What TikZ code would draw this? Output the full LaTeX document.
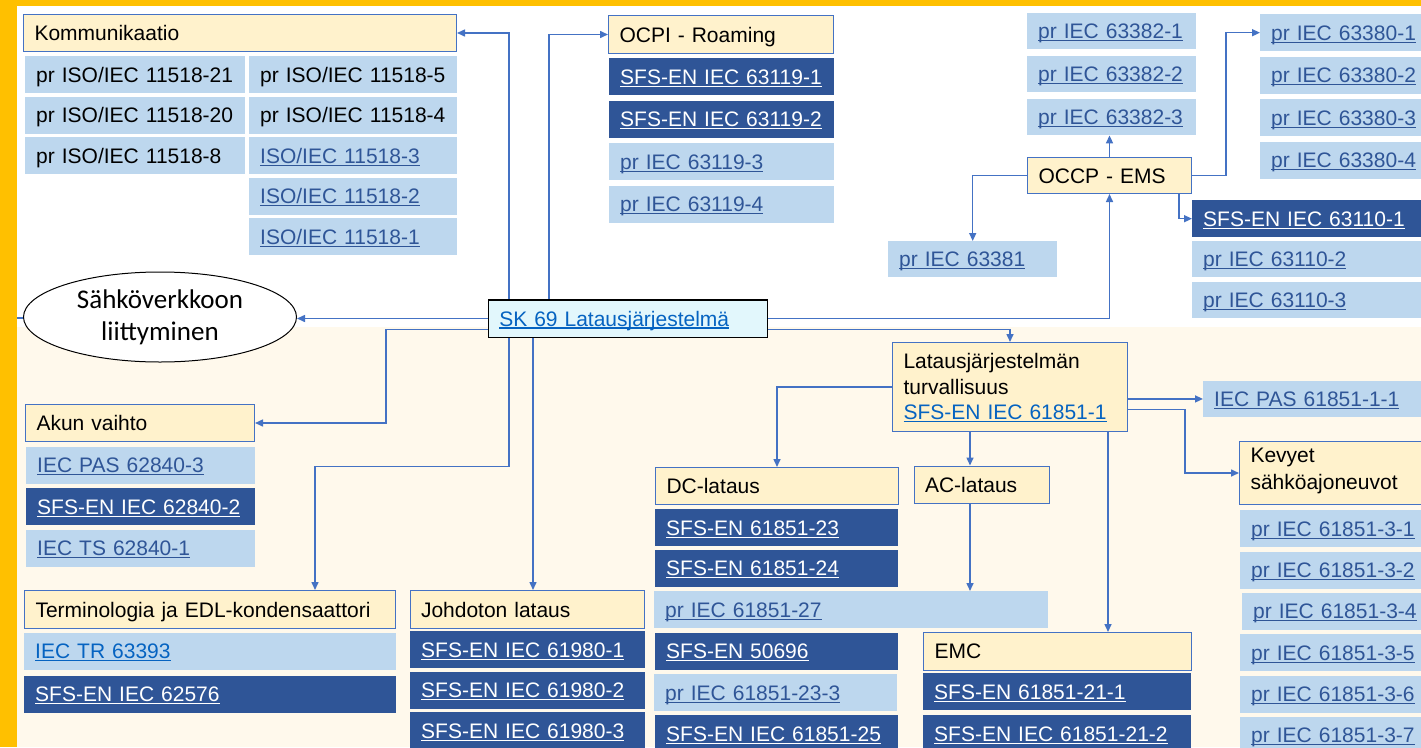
\documentclass[tikz,border=0pt]{standalone}
\usepackage{fontspec}
\setmainfont{Liberation Sans}
\newfontfamily\ellfont{Carlito}
\usetikzlibrary{arrows.meta}
\usetikzlibrary{shapes.geometric}

\definecolor{frameorange}{HTML}{FFC000}
\definecolor{creambg}{HTML}{FFF9EC}
\definecolor{headfill}{HTML}{FFF2CC}
\definecolor{lightbox}{HTML}{BDD7EE}
\definecolor{darkbox}{HTML}{2F5597}
\definecolor{lineblue}{HTML}{4472C4}
\definecolor{weblink}{HTML}{0563C1}
\definecolor{skfill}{HTML}{E2F7FC}

\newcommand{\lnk}[1]{\leavevmode\setbox0=\hbox{#1}\rlap{\rule[-2.6pt]{\wd0}{1.2pt}}\box0}

\tikzset{
  box/.style={anchor=north west, inner xsep=11pt, inner ysep=0pt, minimum height=37pt,
    align=left, text height=20pt, text depth=5pt, font=\fontsize{21}{25.5}\selectfont},
  bw/.code={\pgfmathsetmacro\boxtw{#1-22}\pgfkeysalso{text width=\boxtw pt}},
  head/.style={box, fill=headfill, draw=lineblue, line width=1pt},
  light/.style={box, fill=lightbox, text=darkbox},
  plain/.style={box, fill=lightbox, text=black},
  dark/.style={box, fill=darkbox, text=white},
  conn/.style={->, draw=lineblue, line width=1.5pt},
}

\begin{document}
\begin{tikzpicture}[x=1pt, y=-1pt, >={Triangle[length=8pt,width=7pt]}]
\useasboundingbox (0,0) rectangle (1421,747);
\fill[frameorange] (0,0) rectangle (1421,747);
\fill[white] (17,6) rectangle (1421,327);
\fill[creambg] (17,327) rectangle (1421,747);

  \node[head, bw=433] (komm) at (23,14) {Kommunikaatio};
  \node[plain, bw=220] (k21) at (25,56) {pr ISO/IEC 11518-21};
  \node[plain, bw=208] (k5) at (249,56) {pr ISO/IEC 11518-5};
  \node[plain, bw=220] (k20) at (25,96.5) {pr ISO/IEC 11518-20};
  \node[plain, bw=208] (k4) at (249,96.5) {pr ISO/IEC 11518-4};
  \node[plain, bw=220] (k8) at (25,137) {pr ISO/IEC 11518-8};
  \node[light, bw=208] (k3) at (249,137) {\lnk{ISO/IEC 11518-3}};
  \node[light, bw=208] (k2) at (249,177.5) {\lnk{ISO/IEC 11518-2}};
  \node[light, bw=208] (k1) at (249,218) {\lnk{ISO/IEC 11518-1}};

  \node[head, bw=225, minimum height=38pt] (ocpi) at (608,15) {OCPI - Roaming};
  \node[dark, bw=225] (o1) at (609,58) {\lnk{SFS-EN IEC 63119-1}};
  \node[dark, bw=225] (o2) at (609,100.5) {\lnk{SFS-EN IEC 63119-2}};
  \node[light, bw=225] (o3) at (609,143) {\lnk{pr IEC 63119-3}};
  \node[light, bw=225] (o4) at (609,185.5) {\lnk{pr IEC 63119-4}};

  \node[light, bw=169, minimum height=36pt] (a1) at (1027,13) {\lnk{pr IEC 63382-1}};
  \node[light, bw=169, minimum height=36pt] (a2) at (1027,56) {\lnk{pr IEC 63382-2}};
  \node[light, bw=169, minimum height=36pt] (a3) at (1027,99) {\lnk{pr IEC 63382-3}};
  \node[light, bw=200] (b1) at (1260,14) {\lnk{pr IEC 63380-1}};
  \node[light, bw=200] (b2) at (1260,56.5) {\lnk{pr IEC 63380-2}};
  \node[light, bw=200] (b3) at (1260,99) {\lnk{pr IEC 63380-3}};
  \node[light, bw=200] (b4) at (1260,141.5) {\lnk{pr IEC 63380-4}};
  \node[head, bw=164, minimum height=36pt] (occp) at (1027,157) {OCCP - EMS};
  \node[light, bw=169, minimum height=36pt] (r81) at (888,241) {\lnk{pr IEC 63381}};
  \node[dark, bw=229] (c1) at (1192,200) {\lnk{SFS-EN IEC 63110-1}};
  \node[light, bw=229, minimum height=36pt] (c2) at (1192,241) {\lnk{pr IEC 63110-2}};
  \node[light, bw=229, minimum height=36pt] (c3) at (1192,282) {\lnk{pr IEC 63110-3}};

  \coordinate (edge) at (17,318);
  \draw[lineblue, line width=1.5pt] (edge) -- (30,318);
  \node[ellipse, draw=black, line width=1pt, fill=white, minimum width=273pt, minimum height=90pt,
    inner sep=0pt, align=center, font=\ellfont\fontsize{27}{32}\selectfont] (grid) at (160,317)
    {Sähköverkkoon\\liittyminen};
  \node[box, bw=279, minimum height=37.5pt, fill=skfill, draw=black, line width=1.5pt,
    text=weblink] (sk) at (487.5,299) {\lnk{SK 69 Latausjärjestelmä}};

  \node[head, bw=229] (akun) at (25,404) {Akun vaihto};
  \node[light, bw=229] (v3) at (26,446.5) {\lnk{IEC PAS 62840-3}};
  \node[dark, bw=229] (v2) at (26,488) {\lnk{SFS-EN IEC 62840-2}};
  \node[light, bw=229] (v1) at (26,529.5) {\lnk{IEC TS 62840-1}};

  \node[head, bw=371, minimum height=38pt] (term) at (24,590) {Terminologia ja EDL-kondensaattori};
  \node[light, bw=372, text=weblink] (tr) at (24,632.5) {\lnk{IEC TR 63393}};
  \node[dark, bw=372] (e62) at (24,675.5) {\lnk{SFS-EN IEC 62576}};

  \node[head, bw=234.5, minimum height=38pt] (johd) at (409.5,590) {Johdoton lataus};
  \node[dark, bw=235] (j1) at (410,631) {\lnk{SFS-EN IEC 61980-1}};
  \node[dark, bw=235] (j2) at (410,671.5) {\lnk{SFS-EN IEC 61980-2}};
  \node[dark, bw=235] (j3) at (410,712) {\lnk{SFS-EN IEC 61980-3}};

  \node[head, bw=235, minimum height=89pt, text depth=57pt] (turv) at (892,342)
    {Latausjärjestelmän\\turvallisuus\\\textcolor{weblink}{\lnk{SFS-EN IEC 61851-1}}};
  \node[light, bw=218, minimum height=36.5pt] (pas) at (1203,380.5) {\lnk{IEC PAS 61851-1-1}};

  \node[head, bw=243] (dc) at (655,467) {DC-lataus};
  \node[dark, bw=243] (d23) at (655,509) {\lnk{SFS-EN 61851-23}};
  \node[dark, bw=243] (d24) at (655,549.5) {\lnk{SFS-EN 61851-24}};
  \node[light, bw=394] (d27) at (654,591) {\lnk{pr IEC 61851-27}};
  \node[dark, bw=243] (d50) at (655,632.5) {\lnk{SFS-EN 50696}};
  \node[light, bw=243] (d233) at (654,674) {\lnk{pr IEC 61851-23-3}};
  \node[dark, bw=243] (d25) at (655,715) {\lnk{SFS-EN IEC 61851-25}};

  \node[head, bw=135.5, minimum height=37.5pt] (ac) at (913.5,465.5) {AC-lataus};
  \node[head, bw=268, minimum height=37.5pt] (emc) at (923,632) {EMC};
  \node[dark, bw=268] (f1) at (923,673) {\lnk{SFS-EN 61851-21-1}};
  \node[dark, bw=268] (f2) at (923,715) {\lnk{SFS-EN IEC 61851-21-2}};

  \node[head, bw=200, minimum height=63pt, text depth=41.6pt] (kev) at (1239,441)
    {Kevyet\\[2pt]sähköajoneuvot};
  \node[light, bw=200] (m31) at (1240,510) {\lnk{pr IEC 61851-3-1}};
  \node[light, bw=200] (m32) at (1240,551.3) {\lnk{pr IEC 61851-3-2}};
  \node[light, bw=200] (m34) at (1242,592.6) {\lnk{pr IEC 61851-3-4}};
  \node[light, bw=200] (m35) at (1240,634) {\lnk{pr IEC 61851-3-5}};
  \node[light, bw=200] (m36) at (1240,675.3) {\lnk{pr IEC 61851-3-6}};
  \node[light, bw=200] (m37) at (1240,716.6) {\lnk{pr IEC 61851-3-7}};

  \draw[conn] (sk.west) -- (sk.west -| grid.east);
  \draw[conn] ([xshift=21.5pt]sk.north west) |- (komm.east);
  \draw[conn] ([xshift=61.5pt]sk.north west) |- (ocpi.west);
  \draw[conn] ([yshift=8.5pt]sk.south west) -- ++(-101.5,0) |- (akun.east);
  \draw[conn] ([xshift=21.5pt]sk.south west) -- ++(0,128.5) -| ([xshift=291pt]term.north west);
  \draw[conn] ([xshift=45.5pt]sk.south west) -- ([xshift=123.5pt]johd.north west);
  \draw[conn] (sk.east) -| (occp.south);
  \draw[conn] ([yshift=8.5pt]sk.south east) -| (turv.north);

  \draw[conn] (occp.north) -- (occp.north |- a3.south);
  \draw[conn] (occp.east) -- ++(34,0) |- (b1.west);
  \draw[conn] (occp.west) -| (r81.north);
  \draw[conn] ([xshift=-13pt]occp.south east) |- (c1.west);

  \draw[conn] (turv.east |- pas.west) -- (pas.west);
  \draw[conn] ([yshift=-22.5pt]turv.east) -- ++(57,0) |- (kev.west);
  \draw[conn] (turv.west) -| (dc.north);
  \draw[conn] ([xshift=78pt]turv.south west) -- ([xshift=56.5pt]ac.north west);
  \draw[conn] ([xshift=56.5pt]ac.south west) -- ([xshift=316pt]d27.north west);
  \draw[conn] ([xshift=216pt]turv.south west) -- ([xshift=185pt]emc.north west);
\end{tikzpicture}
\end{document}
